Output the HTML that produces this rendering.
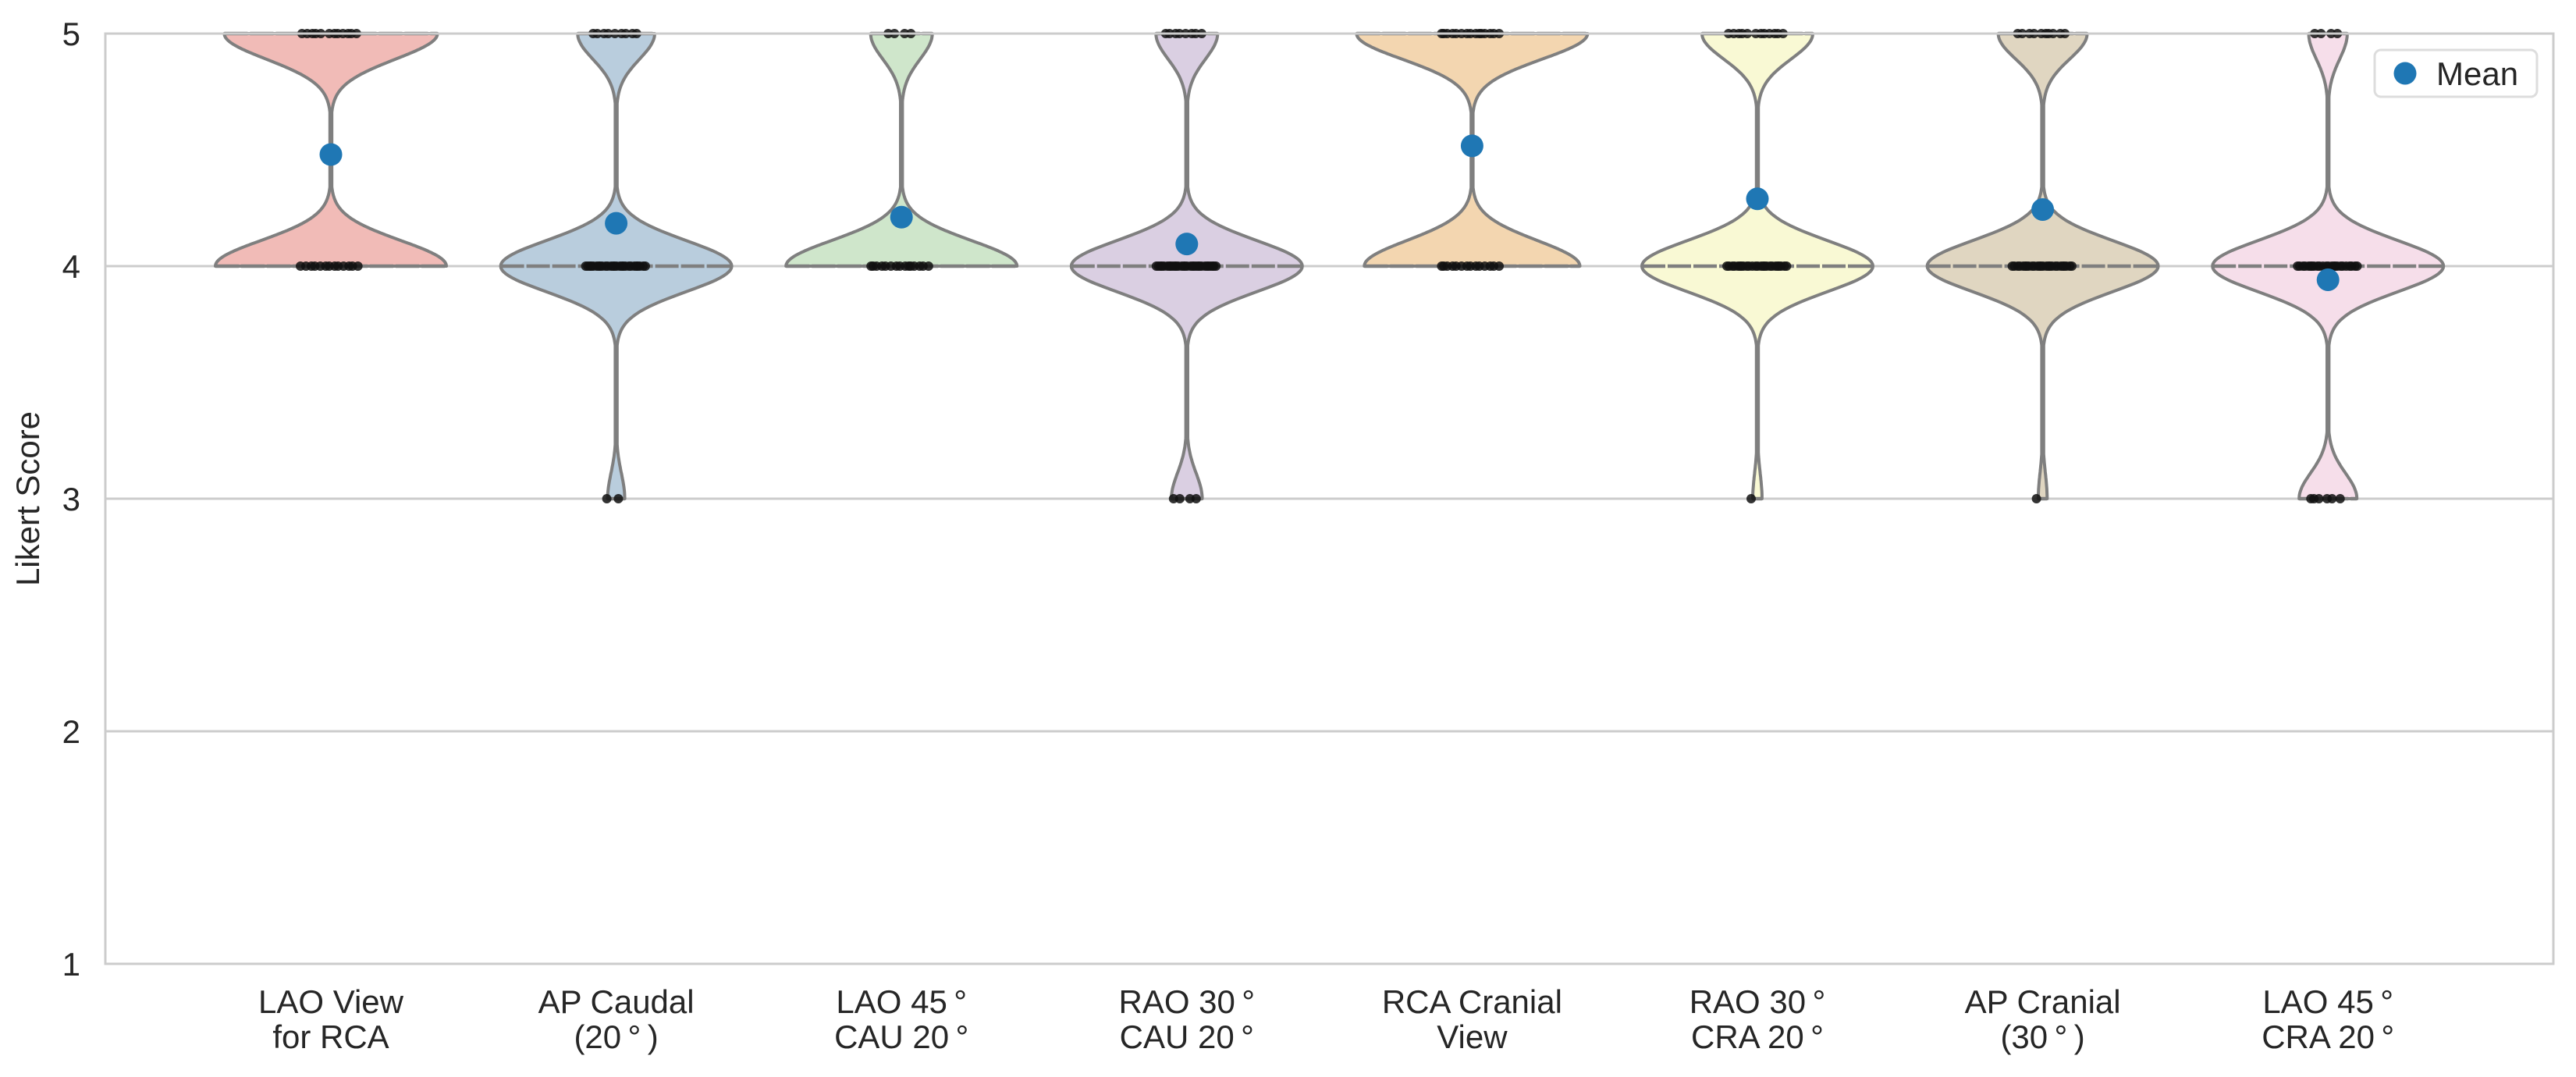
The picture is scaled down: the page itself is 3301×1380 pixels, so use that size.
<!DOCTYPE html>
<html><head><meta charset="utf-8"><style>
html,body{margin:0;padding:0;background:#fff;}
svg{display:block;}
text{font-family:"Liberation Sans",Arial,sans-serif;fill:#262626;}
</style></head><body>
<svg id="chart" width="3301" height="1380" viewBox="0 0 3301 1380" xmlns="http://www.w3.org/2000/svg">
<g id="grid"></g>
<g id="violins"></g>
<g id="axes"></g>
<text transform="translate(50,639) rotate(-90)" text-anchor="middle" font-size="42">Likert Score</text>
<g>
<rect x="3043" y="64" width="208" height="60" rx="8" fill="#fff" stroke="#dddddd" stroke-width="3"/>
<circle cx="3082" cy="94" r="14.5" fill="#1f77b4"/>
<text x="3122" y="109" font-size="42">Mean</text>
</g>
</svg>
<script>
const categories = [["LAO View","for RCA"],["AP Caudal","(20\u2009°\u2009)"],["LAO 45\u2009°","CAU 20\u2009°"],["RAO 30\u2009°","CAU 20\u2009°"],["RCA Cranial","View"],["RAO 30\u2009°","CRA 20\u2009°"],["AP Cranial","(30\u2009°\u2009)"],["LAO 45\u2009°","CRA 20\u2009°"]];
const scoreLevels = [3,4,5];
const count3 = [0,2,0,4,0,1,1,6];
const count4 = [13,27,15,30,14,25,26,24];
const count5 = [12,9,4,8,15,12,10,4];
const yTicks = [1,2,3,4,5];
const fills = ["#f1bbb7","#b9cddd","#cfe6cb","#dacfe2","#f3d6b0","#f9f9d4","#e0d6c1","#f6deea"];

const NS="http://www.w3.org/2000/svg";
const X0=424, STEP=365.6, HALF=148, BW=0.11;
const yScale=v=>43+(5-v)*298;
const xScale=i=>X0+i*STEP;
function mk(tag,attrs,parent){const e=document.createElementNS(NS,tag);for(const k in attrs)e.setAttribute(k,attrs[k]);parent.appendChild(e);return e;}
const grid=document.getElementById('grid'), vg=document.getElementById('violins'), ax=document.getElementById('axes');

yTicks.forEach(t=>{
  const l=mk('line',{x1:135,x2:3272,y1:yScale(t),y2:yScale(t),stroke:'#cccccc','stroke-width':3},grid);
  
  
  const tx=mk('text',{x:103,y:yScale(t)+15,'text-anchor':'end','font-size':42},ax);
  tx.textContent=t;
  
  
});
const frame=mk('rect',{x:135,y:43,width:3137,height:1192,fill:'none',stroke:'#cccccc','stroke-width':3},ax);



categories.forEach((cat,i)=>{
  const cx=xScale(i);
  const counts=[count3[i],count4[i],count5[i]];
  const n=counts[0]+counts[1]+counts[2];
  const present=scoreLevels.filter((s,k)=>counts[k]>0);
  const lo=Math.min(...present), hi=Math.max(...present);
  const dens=v=>counts.reduce((a,c,k)=>a+c*Math.exp(-0.5*Math.pow((v-scoreLevels[k])/BW,2)),0);
  const steps=240, ys=[], ds=[];
  for(let s=0;s<=steps;s++){const v=lo+(hi-lo)*s/steps;ys.push(v);ds.push(dens(v));}
  const mx=Math.max(...ds);
  let right=[],left=[];
  ys.forEach((v,s)=>{const w=Math.max(ds[s]/mx*HALF,1.2);right.push((cx+w).toFixed(1)+','+yScale(v).toFixed(1));left.push((cx-w).toFixed(1)+','+yScale(v).toFixed(1));});
  const g=mk('g',{},vg);
  
  
  const p=mk('polygon',{points:right.concat(left.reverse()).join(' '),fill:fills[i],stroke:'#7f7f7f','stroke-width':4,'stroke-linejoin':'round'},g);
  
  
  scoreLevels.forEach((s,k)=>{
    if(!counts[k])return;
    const w=dens(s)/mx*HALF;
    const st=mk('line',{x1:cx-w,x2:cx+w,y1:yScale(s),y2:yScale(s),stroke:'#7f7f7f','stroke-width':4.5,'stroke-dasharray':'30 3'},g);
    
    
  });
  scoreLevels.forEach((s,k)=>{
    const c=counts[k];
    const spread=Math.min(78,14+c*5);
    for(let j=0;j<c;j++){
      const off=(c===1)?-8:(((j*0.618034)%1)-0.5)*spread;
      const d=mk('circle',{cx:cx+off,cy:yScale(s),r:6,fill:'#111','fill-opacity':0.85},g);
      
      
    }
  });
  const mean=(3*counts[0]+4*counts[1]+5*counts[2])/n;
  const m=mk('circle',{cx:cx,cy:yScale(mean),r:14.5,fill:'#1f77b4'},g);
  
  
  const t=mk('text',{x:cx,y:1298,'text-anchor':'middle','font-size':42},ax);
  
  
  cat.forEach((line,li)=>{const ts=mk('tspan',{x:cx,dy:li?45:0},t);ts.textContent=line;});
});
</script>
</body></html>
